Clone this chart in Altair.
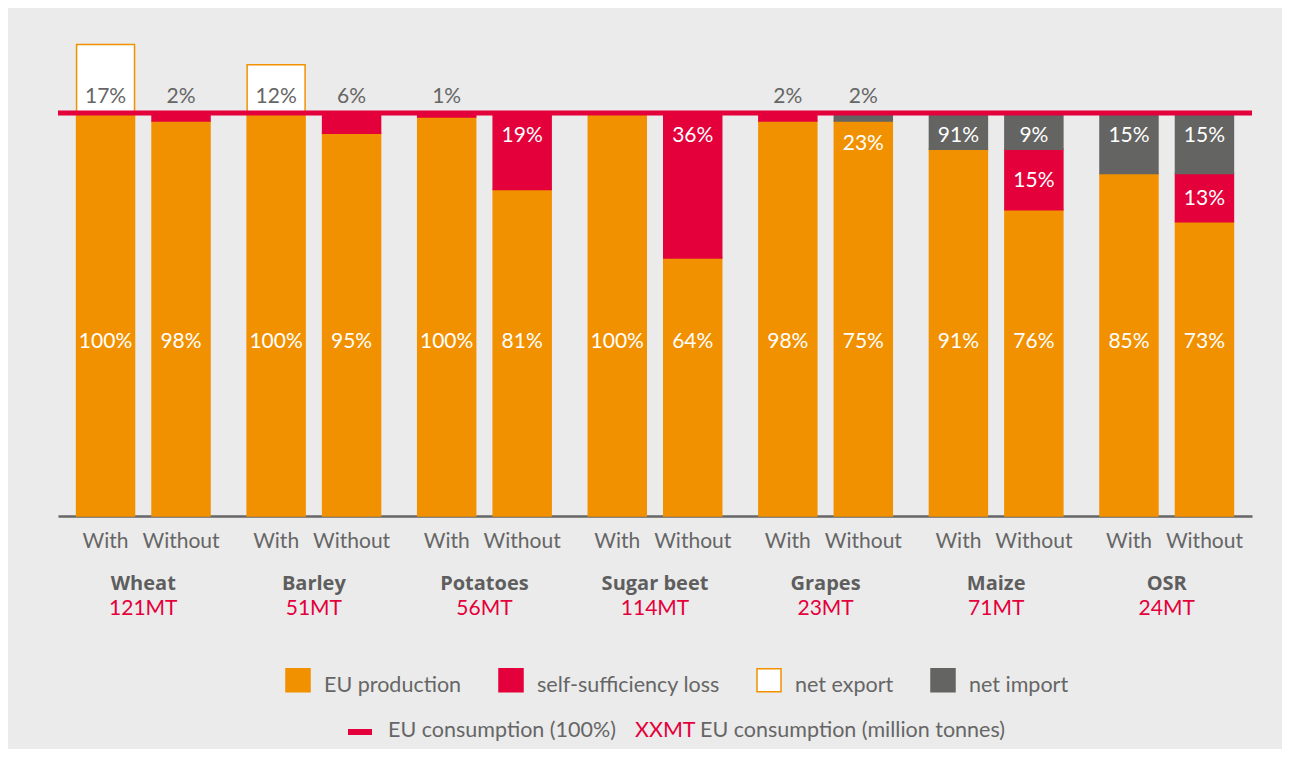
import altair as alt
import pandas as pd

# ---------------- data ----------------
crops = ["Wheat", "Barley", "Potatoes", "Sugar beet", "Grapes", "Maize", "OSR"]
consumption_mt = ["121MT", "51MT", "56MT", "114MT", "23MT", "71MT", "24MT"]
scenarios = ["With", "Without"]

# one value per bar: Wheat With, Wheat Without, Barley With, ...
production = [100, 98, 100, 95, 99, 81, 100, 64, 98, 98, 91, 76, 85, 73]
loss       = [0, 2, 0, 5, 1, 19, 0, 36, 2, 0, 0, 15, 0, 12]
net_import = [0, 0, 0, 0, 0, 0, 0, 0, 0, 2, 9, 9, 15, 15]
net_export = [17, 0, 12, 0, 0, 0, 0, 0, 0, 0, 0, 0, 0, 0]

above_labels = ["17%", "2%", "12%", "6%", "1%", "", "", "", "2%", "2%", "", "", "", ""]
mid_labels = ["100%", "98%", "100%", "95%", "100%", "81%", "100%", "64%",
              "98%", "75%", "91%", "76%", "85%", "73%"]
top_inner_labels = ["", "", "", "", "", "19%", "", "36%", "", "23%", "91%", "9%", "15%", "15%"]
top_inner_segment = ["", "", "", "", "", "self-sufficiency loss", "", "self-sufficiency loss",
                     "", "EU production", "net import", "net import", "net import", "net import"]
loss_inner_labels = ["", "", "", "", "", "", "", "", "", "", "", "15%", "", "13%"]

segments = ["EU production", "self-sufficiency loss", "net export", "net import"]

# ---------------- styles ----------------
ORANGE = "#F29100"
RED = "#E4003B"
GREY = "#646462"
TXT = "#666666"
BG = "#EBEBEB"
FONT = "Lato"
BOLD_FONT = "Open Sans"
FS = 21
LFS = 21.5

# ---------------- tables ----------------
bar_rows, grey_lab, white_lab, scen_rows = [], [], [], []
for i in range(len(production)):
    crop = crops[i // 2]
    sc = scenarios[i % 2]
    base = 0
    ends = {}
    for seg, vals in [("EU production", production), ("self-sufficiency loss", loss),
                      ("net import", net_import), ("net export", net_export)]:
        v = vals[i]
        if v > 0:
            bar_rows.append(dict(crop=crop, scenario=sc, segment=seg, y0=base, y1=base + v))
            ends[seg] = (base, base + v)
            base += v
    scen_rows.append(dict(crop=crop, scenario=sc))
    if above_labels[i]:
        grey_lab.append(dict(crop=crop, scenario=sc, t=above_labels[i], ly=104.0))
    white_lab.append(dict(crop=crop, scenario=sc, t=mid_labels[i], ly=43.3))
    if top_inner_labels[i]:
        white_lab.append(dict(crop=crop, scenario=sc, t=top_inner_labels[i],
                              ly=ends[top_inner_segment[i]][1] - 5.6))
    if loss_inner_labels[i]:
        a, b = ends["self-sufficiency loss"]
        white_lab.append(dict(crop=crop, scenario=sc, t=loss_inner_labels[i], ly=(a + b) / 2 - 0.3))

df_bars = pd.DataFrame(bar_rows)
df_grey = pd.DataFrame(grey_lab)
df_white = pd.DataFrame(white_lab)
df_scen = pd.DataFrame(scen_rows)
df_crop = pd.DataFrame({"crop": crops, "mt": consumption_mt})

X = alt.X("crop:N", sort=crops, title=None,
          scale=alt.Scale(paddingInner=0, paddingOuter=0))
XO = alt.XOffset("scenario:N", sort=scenarios,
                 scale=alt.Scale(paddingInner=0.232, paddingOuter=0.246))
YS = alt.Scale(domain=[0, 100], nice=False)

leg = alt.Legend(
    title=None, orient="none", direction="horizontal", legendX=229, legendY=562,
    symbolType="M-1.2,-1.75H1.2V0.55H-1.2Z", symbolSize=400, symbolStrokeWidth=1.5,
    labelFont=FONT, labelFontSize=LFS, labelColor=TXT, labelLimit=500,
    labelOffset=15, columnPadding=34, padding=0, symbolOpacity=1,
)

bars = alt.Chart(df_bars).mark_bar(strokeWidth=1.5).encode(
    x=X, xOffset=XO,
    y=alt.Y("y0:Q", scale=YS, axis=None),
    y2="y1:Q",
    fill=alt.Fill("segment:N", scale=alt.Scale(domain=segments, range=[ORANGE, RED, "white", GREY]), legend=leg),
    stroke=alt.Stroke("segment:N", scale=alt.Scale(domain=segments, range=[ORANGE, RED, ORANGE, GREY]), legend=leg),
)

line100 = alt.Chart(pd.DataFrame({"v": [100]})).mark_rule(color=RED, strokeWidth=5).encode(
    y=alt.Y("v:Q", scale=YS, axis=None)
)

t_grey = alt.Chart(df_grey).mark_text(font=FONT, fontSize=FS, color=TXT, baseline="middle").encode(
    x=X, xOffset=XO, y=alt.Y("ly:Q", scale=YS, axis=None), text="t:N"
)
t_white = alt.Chart(df_white).mark_text(font=FONT, fontSize=FS, color="white", baseline="middle").encode(
    x=X, xOffset=XO, y=alt.Y("ly:Q", scale=YS, axis=None), text="t:N"
)
t_scen = alt.Chart(df_scen).mark_text(font=FONT, fontSize=FS, color=TXT, baseline="middle").encode(
    x=X, xOffset=XO, y=alt.value(429), text="scenario:N"
)
t_crop = alt.Chart(df_crop).mark_text(font=BOLD_FONT, fontSize=20, fontWeight="bold", color="#5E5E5E",
                                      baseline="middle").encode(
    x=X, y=alt.value(471), text="crop:N"
)
t_mt = alt.Chart(df_crop).mark_text(font=FONT, fontSize=FS, color=RED, baseline="middle").encode(
    x=X, y=alt.value(496), text="mt:N"
)

one = pd.DataFrame({"k": [0]})
leg_dash = alt.Chart(one).mark_rule(color=RED, strokeWidth=6).encode(
    x=alt.value(290), x2=alt.value(314), y=alt.value(619)
)
leg_t1 = alt.Chart(one).mark_text(font=FONT, fontSize=LFS, color=TXT, align="left", baseline="middle").encode(
    x=alt.value(330), y=alt.value(618), text=alt.value("EU consumption (100%)")
)
leg_t2 = alt.Chart(one).mark_text(font=FONT, fontSize=LFS, color=RED, align="left", baseline="middle").encode(
    x=alt.value(577), y=alt.value(618), text=alt.value("XXMT")
)
leg_t3 = alt.Chart(one).mark_text(font=FONT, fontSize=LFS, color=TXT, align="left", baseline="middle").encode(
    x=alt.value(642), y=alt.value(618), text=alt.value("EU consumption (million tonnes)")
)

chart = alt.layer(
    bars, line100, t_grey, t_white, t_scen, t_crop, t_mt, leg_dash, leg_t1, leg_t2, leg_t3
).properties(
    width=1194, height=403,
    autosize=alt.AutoSizeParams(type="none"),
    padding={"left": 50, "top": 105, "right": 30, "bottom": 233},
    background=BG,
).configure_view(stroke=None).configure_axisX(
    labels=False, ticks=False, domainColor="#666666", domainWidth=2.5, grid=False
)

chart.save("out.html", embed_options={"renderer": "svg", "actions": False})
